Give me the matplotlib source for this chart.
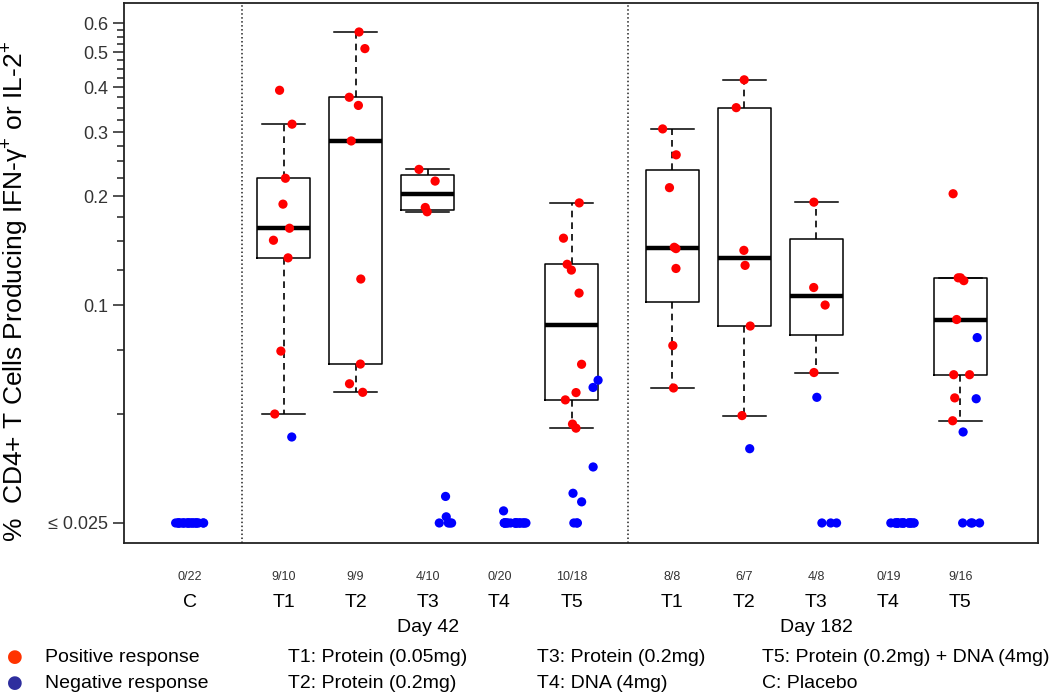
import numpy as np
import matplotlib
matplotlib.use("Agg")
import matplotlib.pyplot as plt
from matplotlib.ticker import FixedLocator, NullFormatter

plt.rcParams['font.family'] = ['Liberation Sans', 'DejaVu Sans']
plt.rcParams['mathtext.fontset'] = 'custom'
plt.rcParams['mathtext.rm'] = 'Liberation Sans'

# groups: C, Day 42 T1..T5, Day 182 T1..T5
groups = ["C", "T1", "T2", "T3", "T4", "T5", "T1", "T2", "T3", "T4", "T5"]
counts = ["0/22", "9/10", "9/9", "4/10", "0/20", "10/18", "8/8", "6/7", "4/8", "0/19", "9/16"]

# positive responders (red)
pos_vals = [
    [],
    [0.392, 0.316, 0.224, 0.190, 0.163, 0.151, 0.135, 0.0746, 0.050],
    [0.568, 0.511, 0.375, 0.356, 0.284, 0.118, 0.0687, 0.0606, 0.0574],
    [0.237, 0.220, 0.186, 0.181],
    [],
    [0.1915, 0.153, 0.1296, 0.1249, 0.1079, 0.0686, 0.0573, 0.0547, 0.0469, 0.0457],
    [0.3066, 0.260, 0.211, 0.1444, 0.1432, 0.1262, 0.0773, 0.059],
    [0.419, 0.351, 0.1416, 0.1287, 0.0875, 0.0495],
    [0.1924, 0.1118, 0.100, 0.0651],
    [],
    [0.203, 0.1189, 0.1189, 0.1168, 0.0912, 0.0642, 0.0642, 0.0554, 0.0479],
]

# negative responders (blue), 0.025 = at or below detection limit
neg_vals = [
    [0.025] * 22,
    [0.0432],
    [],
    [0.0296, 0.026] + [0.025] * 4,
    [0.027] + [0.025] * 19,
    [0.062, 0.0592, 0.0357, 0.0302, 0.0286] + [0.025] * 3,
    [],
    [0.0401],
    [0.0556] + [0.025] * 3,
    [0.025] * 19,
    [0.0813, 0.0551, 0.0446] + [0.025] * 4,
]

pos = [0, 1.3, 2.3, 3.3, 4.3, 5.3, 6.7, 7.7, 8.7, 9.7, 10.7]


def fivenum(v):
    v = np.sort(np.array(v))
    n = len(v)
    n4 = np.floor((n + 3) / 2) / 2
    d = np.array([1, n4, (n + 1) / 2, n + 1 - n4, n]) - 1
    return 0.5 * (v[np.floor(d).astype(int)] + v[np.ceil(d).astype(int)])


fig = plt.figure(figsize=(10.5, 6.99), dpi=100)
ax = fig.add_axes([124 / 1050, 1 - 543 / 699, 914 / 1050, 540 / 699])
ax.set_yscale("log")

# box stats (R style hinges)
stats = []
box_pos = []
for i, v in enumerate(pos_vals):
    if len(v) == 0:
        continue
    mn, q1, med, q3, mx = fivenum(v)
    iqr = q3 - q1
    arr = np.array(v)
    lo = arr[arr >= q1 - 1.5 * iqr].min()
    hi = arr[arr <= q3 + 1.5 * iqr].max()
    stats.append(dict(med=med, q1=q1, q3=q3, whislo=lo, whishi=hi, fliers=[]))
    box_pos.append(pos[i])

ax.bxp(stats, positions=box_pos, widths=0.74, capwidths=0.6, showfliers=False,
       boxprops=dict(color="black", lw=1.1),
       whiskerprops=dict(color="black", lw=1.2, linestyle=(0, (4, 3))),
       capprops=dict(color="black", lw=1.1),
       medianprops=dict(color="black", lw=3.2), manage_ticks=False)

rng = np.random.default_rng(3)
for i in range(len(groups)):
    r = pos_vals[i]
    b = neg_vals[i]
    if len(b):
        if i == 0:
            jx = rng.uniform(-0.2, 0.2, len(b))
        else:
            jx = rng.uniform(0.0, 0.38, len(b))
        ax.scatter(pos[i] + jx, b, s=44, color="#0000ff", edgecolors="none", zorder=3)
    if len(r):
        jx = rng.uniform(-0.15, 0.15, len(r))
        ax.scatter(pos[i] + jx, r, s=44, color="#ff0000", edgecolors="none", zorder=3)

ax.axvline(0.72, color="#222222", lw=1.1, linestyle=(0, (1, 1.6)))
ax.axvline(6.08, color="#222222", lw=1.1, linestyle=(0, (1, 1.6)))

ax.set_xlim(-0.917, 11.78)
ax.set_ylim(0.02201, 0.683)
ax.set_xticks([])

major = [0.025, 0.1, 0.2, 0.3, 0.4, 0.5, 0.6]
ax.yaxis.set_major_locator(FixedLocator(major))
ax.set_yticklabels(["\u2264 0.025", "0.1", "0.2", "0.3", "0.4", "0.5", "0.6"])
minor = [m for m in np.round(np.arange(0.05, 0.601, 0.025), 3) if m not in major]
ax.yaxis.set_minor_locator(FixedLocator(minor))
ax.yaxis.set_minor_formatter(NullFormatter())
ax.tick_params(axis="y", which="major", length=8, width=1.2, color="#333333",
               labelsize=13, labelcolor="#333333")
ax.tick_params(axis="y", which="minor", length=5, width=1.2, color="#333333")
for s in ax.spines.values():
    s.set_linewidth(1.3)
    s.set_color("#222222")

ax.set_ylabel("%  CD4+ T Cells Producing IFN-\u03b3$^{+}$ or IL-2$^{+}$", fontsize=19)
ax.yaxis.set_label_coords(-0.103, 0.465)

tr = ax.get_xaxis_transform()
for i in range(len(groups)):
    ax.text(pos[i], -0.063, counts[i], transform=tr, ha="center", va="center",
            fontsize=9, color="#333333")
    ax.text(pos[i], -0.111, groups[i], transform=tr, ha="center", va="center",
            fontsize=14)
ax.text(pos[3], -0.157, "Day 42", transform=tr, ha="center", va="center", fontsize=14)
ax.text(pos[8], -0.157, "Day 182", transform=tr, ha="center", va="center", fontsize=14)

# bottom legend
y1 = 1 - 657 / 699
y2 = 1 - 683 / 699
fig.text(15 / 1050, y1, "\u25cf", color="#ff3300", ha="center", va="center",
         fontsize=13, family="DejaVu Sans")
fig.text(15 / 1050, y2, "\u25cf", color="#2e2e9e", ha="center", va="center",
         fontsize=13, family="DejaVu Sans")
fig.text(45 / 1050, y1, "Positive response", va="center", fontsize=14)
fig.text(45 / 1050, y2, "Negative response", va="center", fontsize=14)
fig.text(288 / 1050, y1, "T1: Protein (0.05mg)", va="center", fontsize=14)
fig.text(288 / 1050, y2, "T2: Protein (0.2mg)", va="center", fontsize=14)
fig.text(537 / 1050, y1, "T3: Protein (0.2mg)", va="center", fontsize=14)
fig.text(537 / 1050, y2, "T4: DNA (4mg)", va="center", fontsize=14)
fig.text(762 / 1050, y1, "T5: Protein (0.2mg) + DNA (4mg)", va="center", fontsize=14)
fig.text(762 / 1050, y2, "C: Placebo", va="center", fontsize=14)

fig.savefig("out.png", dpi=100)
